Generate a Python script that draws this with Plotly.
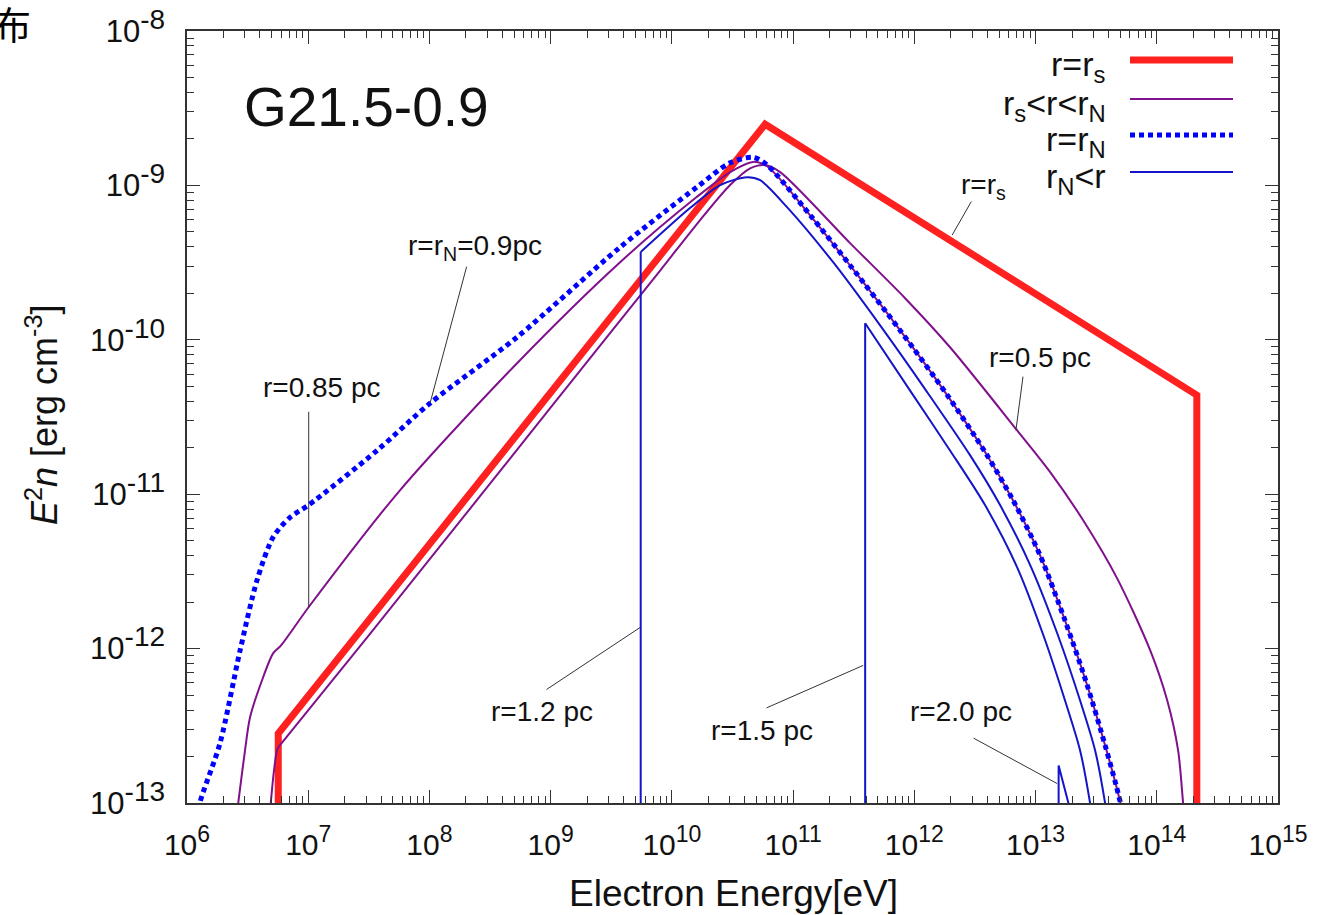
import plotly.graph_objects as go

# ---------------- spectra E^2 n(E) at several radii ----------------
# r = r_s (shock)
E_rs = [5.66e6, 5.66e6, 5.87e10, 2.14e14, 2.14e14]
n_rs = [5.0e-14, 2.82e-13, 2.49e-9, 4.38e-11, 5.0e-14]

# r = 0.5 pc  (r_s < r < r_N)
E_r05 = [4.79e6, 4.91e6, 5.22e6, 5.58e6, 6.08e6, 3.16e7, 3.16e8, 3.16e9, 8.00e9,
         1.71e10, 3.02e10, 4.42e10, 5.87e10, 7.82e10, 2.95e11, 8.39e11, 1.97e12,
         7.05e12, 1.32e13, 2.47e13, 4.71e13, 8.83e13, 1.22e14, 1.50e14, 1.65e14, 1.70e14]
n_r05 = [7.94e-14, 1.00e-13, 1.62e-13, 2.25e-13, 2.46e-13, 1.22e-12, 1.17e-11, 1.13e-10,
         2.81e-10, 5.96e-10, 1.005e-9, 1.29e-9, 1.355e-9, 1.22e-9, 4.23e-10, 1.86e-10,
         8.95e-11, 2.59e-11, 1.39e-11, 6.78e-12, 2.85e-12, 9.73e-13, 4.61e-13, 2.19e-13,
         9.93e-14, 7.94e-14]

# r = 0.85 pc  (r_s < r < r_N)
E_r085 = [2.51e6, 2.65e6, 3.01e6, 3.31e6, 4.24e6, 5.13e6, 5.97e6, 1.01e7, 5.71e7, 5.28e8,
          3.74e9, 1.60e10, 3.02e10, 4.68e10, 6.10e10, 1.38e11, 2.95e11, 7.64e11, 1.87e12,
          3.84e12, 6.53e12, 1.09e13, 1.75e13, 2.67e13, 3.75e13, 4.62e13, 5.19e13, 5.60e13]
n_r085 = [7.08e-14, 1.01e-13, 2.19e-13, 3.58e-13, 6.50e-13, 9.31e-13, 1.05e-12, 1.86e-12,
          1.06e-11, 7.05e-11, 3.18e-10, 8.40e-10, 1.22e-9, 1.42e-9, 1.33e-9, 6.40e-10,
          3.03e-10, 1.15e-10, 4.37e-11, 1.87e-11, 9.10e-12, 4.01e-12, 1.52e-12, 5.77e-13,
          2.36e-13, 1.30e-13, 8.92e-14, 6.64e-14]

# r = r_N = 0.9 pc
E_rN = [1.23e6, 1.28e6, 1.87e6, 2.74e6, 3.78e6, 5.13e6, 7.08e6, 1.00e7, 3.70e7, 1.01e8,
        5.28e8, 3.74e9, 1.61e10, 3.02e10, 4.68e10, 6.10e10, 1.38e11, 2.95e11, 7.64e11,
        1.87e12, 3.84e12, 6.53e12, 1.09e13, 1.75e13, 2.67e13, 3.75e13, 4.62e13, 5.19e13,
        5.60e13]
n_rN = [7.94e-14, 1.007e-13, 2.43e-13, 9.73e-13, 2.77e-12, 5.26e-12, 7.08e-12, 8.47e-12,
        1.92e-11, 3.88e-11, 1.04e-10, 3.98e-10, 9.75e-10, 1.40e-9, 1.52e-9, 1.355e-9,
        6.43e-10, 3.04e-10, 1.15e-10, 4.38e-11, 1.87e-11, 9.12e-12, 4.02e-12, 1.52e-12,
        5.78e-13, 2.36e-13, 1.30e-13, 8.93e-14, 6.64e-14]

# r = 1.2 pc  (r_N < r)
E_r12 = [5.53e9, 5.53e9, 1.41e10, 2.50e10, 4.17e10, 5.35e10, 8.91e10, 2.14e11, 5.22e11,
         1.28e12, 2.88e12, 5.11e12, 9.20e12, 1.53e13, 2.33e13, 3.10e13, 3.75e13, 3.97e13]
n_r12 = [7.94e-14, 3.70e-10, 7.13e-10, 1.005e-9, 1.13e-9, 1.08e-9, 7.23e-10, 3.18e-10,
         1.24e-10, 4.57e-11, 1.79e-11, 8.47e-12, 3.36e-12, 1.22e-12, 4.61e-13, 2.19e-13,
         9.93e-14, 7.14e-14]

# r = 1.5 pc  (r_N < r)
E_r15 = [3.93e11, 3.93e11, 9.77e11, 1.97e12, 3.84e12, 7.05e12, 1.16e13, 1.75e13, 2.33e13,
         2.82e13, 2.99e13]
n_r15 = [7.94e-14, 1.28e-10, 4.38e-11, 1.92e-11, 8.47e-12, 3.36e-12, 1.22e-12, 4.61e-13,
         2.19e-13, 9.93e-14, 7.14e-14]

# r = 2.0 pc  (r_N < r)
E_r20 = [1.55e13, 1.55e13, 1.87e13, 1.91e13]
n_r20 = [7.94e-14, 1.75e-13, 9.93e-14, 7.94e-14]

# axis ticks
x_tick_exp = [6, 7, 8, 9, 10, 11, 12, 13, 14, 15]
y_tick_exp = [-13, -12, -11, -10, -9, -8]

RED = "#ff2020"
PURPLE = "#80108c"
BLUE = "#1414c8"
BLUE_DOT = "#0000ff"
DOTS = "5px,4px"
FONT = "Liberation Sans, Arial, sans-serif"
INK = "#111111"

fig = go.Figure()


def add_line(E, n, color, width, dash="solid", shape="linear"):
    fig.add_trace(go.Scatter(x=E, y=n, mode="lines", showlegend=False,
                             line=dict(color=color, width=width, dash=dash,
                                       shape=shape, smoothing=0.8),
                             hoverinfo="skip"))


add_line(E_rs, n_rs, RED, 7)
add_line(E_r05, n_r05, PURPLE, 2, shape="spline")
add_line(E_r085, n_r085, PURPLE, 2, shape="spline")
add_line(E_rN, n_rN, BLUE_DOT, 5, dash=DOTS, shape="spline")
# outer shells: sharp injection edge, then a smooth spectrum
add_line(E_r12[:2], n_r12[:2], BLUE, 2)
add_line(E_r12[1:], n_r12[1:], BLUE, 2, shape="spline")
add_line(E_r15[:2], n_r15[:2], BLUE, 2)
add_line(E_r15[1:], n_r15[1:], BLUE, 2, shape="spline")
add_line(E_r20, n_r20, BLUE, 2)

# minor tick positions (2..9 x 10^k)
x_minor = [m * 10.0 ** k for k in range(6, 15) for m in range(2, 10)]
y_minor = [m * 10.0 ** k for k in range(-13, -8) for m in range(2, 10)]

axis_common = dict(type="log", showgrid=False, zeroline=False, showline=True,
                   linecolor="#333333", linewidth=1.5, mirror="ticks",
                   ticks="inside", ticklen=13, tickwidth=1.3, tickcolor="#333333",
                   ticklabelstandoff=14, automargin=False)

fig.update_xaxes(**axis_common, range=[6, 15],
                 tickvals=[10.0 ** e for e in x_tick_exp],
                 ticktext=[f'10<sup><span style="font-size:23px">{e}</span></sup>'
                           for e in x_tick_exp],
                 tickfont=dict(family=FONT, size=30, color=INK),
                 minor=dict(tickvals=x_minor, ticks="inside", ticklen=7,
                            tickwidth=1.2, tickcolor="#333333", showgrid=False))
fig.update_yaxes(**axis_common, range=[-13, -8],
                 tickvals=[10.0 ** e for e in y_tick_exp],
                 ticktext=[f'10<sup><span style="font-size:28px">{e}</span></sup>'
                           for e in y_tick_exp],
                 tickfont=dict(family=FONT, size=31, color=INK),
                 minor=dict(tickvals=y_minor, ticks="inside", ticklen=7,
                            tickwidth=1.2, tickcolor="#333333", showgrid=False))

annotations = []

L, W, T, H = 187, 1091, 31, 772


def px_x(p):
    return (p - L) / W


def px_y(p):
    return 1 - (p - T) / H


def label(text, lx, ly, size=28):
    # lx, ly in log10 axis units
    annotations.append(dict(x=lx, y=ly, xref="x", yref="y", text=text, showarrow=False,
                            font=dict(family=FONT, size=size, color=INK),
                            xanchor="center", yanchor="middle"))


def leader(x0, y0, x1, y1):
    # thin pointer line from (x0, y0) to the curve at (x1, y1), log10 units
    annotations.append(dict(x=x1, y=y1, ax=x0, ay=y0, xref="x", yref="y",
                            axref="x", ayref="y", text="", showarrow=True,
                            arrowhead=0, arrowwidth=1, arrowcolor="#333333",
                            standoff=0, startstandoff=0))


label("G21.5-0.9", 7.477, -8.493, size=55)
label("r=r<sub>N</sub>=0.9pc", 8.376, -9.40)
label("r=0.85 pc", 7.114, -10.307)
label("r=r<sub>s</sub>", 12.568, -9.01)
label("r=0.5 pc", 13.038, -10.113)
label("r=1.2 pc", 8.929, -12.407)
label("r=1.5 pc", 10.744, -12.530)
label("r=2.0 pc", 12.386, -12.407)

leader(8.310, -9.517, 8.005, -10.411)
leader(7.004, -10.456, 7.004, -11.733)
leader(12.477, -9.095, 12.312, -9.322)
leader(12.898, -10.229, 12.838, -10.586)
leader(8.954, -12.271, 9.738, -11.863)
leader(10.769, -12.388, 11.578, -12.109)
leader(12.477, -12.575, 13.178, -12.874)

# axis titles
annotations.append(dict(x=px_x(733), y=px_y(893), xref="paper", yref="paper",
                        text="Electron Energy[eV]", showarrow=False,
                        xanchor="center", yanchor="middle",
                        font=dict(family=FONT, size=37, color=INK)))
annotations.append(dict(x=px_x(42), y=px_y(415), xref="paper", yref="paper",
                        text="<i>E</i><sup>2</sup><i>n</i> [erg cm<sup>-3</sup>]",
                        showarrow=False, textangle=-90,
                        xanchor="center", yanchor="middle",
                        font=dict(family=FONT, size=36, color=INK)))

# hand-built key in the upper right corner: label on the left, sample line on the right
key_rows = [("r=r<sub>s</sub>", 60, RED, 7, "solid"),
            ("r<sub>s</sub>&lt;r&lt;r<sub>N</sub>", 99, PURPLE, 2, "solid"),
            ("r=r<sub>N</sub>", 135, BLUE_DOT, 5, DOTS),
            ("r<sub>N</sub>&lt;r", 172, BLUE, 2, "solid")]
shapes = []
for text, ypx, color, width, dash in key_rows:
    annotations.append(dict(x=px_x(1108), y=px_y(ypx + 6), xref="paper", yref="paper",
                            text=text, showarrow=False, xanchor="right", yanchor="middle",
                            font=dict(family=FONT, size=34, color=INK)))
    shapes.append(dict(type="line", xref="paper", yref="paper",
                       x0=px_x(1130), x1=px_x(1233), y0=px_y(ypx), y1=px_y(ypx),
                       line=dict(color=color, width=width, dash=dash)))

# clipped caption character at the top-left corner
annotations.append(dict(x=px_x(33), y=px_y(23), xref="paper", yref="paper", text="布",
                        showarrow=False, xanchor="right", yanchor="middle",
                        font=dict(family="Noto Sans CJK SC", size=38, color="#000000")))

fig.update_layout(width=1317, height=915,
                  margin=dict(l=187, r=39, t=31, b=112),
                  plot_bgcolor="white", paper_bgcolor="white",
                  annotations=annotations, shapes=shapes, showlegend=False)

fig.write_html("out.html")
